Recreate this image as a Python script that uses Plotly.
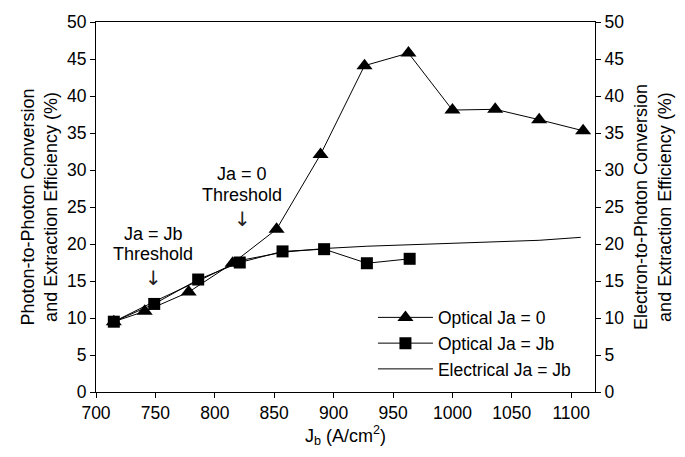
import plotly.graph_objects as go

# Data
jb_opt0 = [715, 741, 778, 815, 852, 889, 926, 963, 1000, 1036, 1073, 1110]
eff_opt0 = [9.5, 10.9, 13.5, 17.4, 22.0, 32.1, 44.1, 45.8, 38.1, 38.2, 36.8, 35.3]

jb_optjb = [715, 749, 786, 821, 857, 892, 928, 964]
eff_optjb = [9.5, 11.9, 15.2, 17.5, 19.0, 19.3, 17.4, 18.0]

jb_elec = [715, 750, 786, 822, 858, 893, 928, 964, 1000, 1036, 1073, 1108]
eff_elec = [9.5, 12.3, 15.0, 17.8, 18.9, 19.4, 19.7, 19.9, 20.1, 20.3, 20.5, 20.9]

x_ticks = [700, 750, 800, 850, 900, 950, 1000, 1050, 1100]
y_ticks = [0, 5, 10, 15, 20, 25, 30, 35, 40, 45, 50]

FONT = "Liberation Sans, Arial, sans-serif"
fs = 17.5
fst = 18

fig = go.Figure()
fig.add_trace(go.Scatter(x=jb_opt0, y=eff_opt0, mode="lines+markers", name="Optical Ja = 0",
                         legendgroup="a",
                         line=dict(color="black", width=1),
                         marker=dict(symbol="triangle-up", size=14, color="black")))
fig.add_trace(go.Scatter(x=jb_optjb, y=eff_optjb, mode="lines+markers", name="Optical Ja = Jb",
                         legendgroup="b",
                         line=dict(color="black", width=1),
                         marker=dict(symbol="square", size=12, color="black")))
fig.add_trace(go.Scatter(x=jb_elec, y=eff_elec, mode="lines", name="Electrical Ja = Jb",
                         legendgroup="c",
                         line=dict(color="black", width=1), yaxis="y2"))

axis_common = dict(showgrid=False, zeroline=False, showline=True, linecolor="black", linewidth=1,
                   ticks="outside", ticklen=5, tickcolor="black",
                   tickfont=dict(family=FONT, size=fs, color="black"))

fig.update_layout(
    width=685, height=457,
    margin=dict(l=96, r=90, t=18, b=65),
    paper_bgcolor="white", plot_bgcolor="white",
    font=dict(family=FONT, size=fs, color="black"),
    showlegend=True,
    legend=dict(x=0.555, y=0.25, xanchor="left", yanchor="top",
                bgcolor="rgba(0,0,0,0)", font=dict(family=FONT, size=fs, color="black"),
                traceorder="grouped", tracegroupgap=0, itemwidth=55),
    xaxis=dict(range=[700, 1120], tickvals=x_ticks, mirror=True,
               title=dict(text="J<sub>b</sub> (A/cm<sup>2</sup>)", standoff=6,
                          font=dict(family=FONT, size=fst, color="black")),
               **axis_common),
    yaxis=dict(range=[0, 50], tickvals=y_ticks,
               title=dict(text="Photon-to-Photon Conversion<br>and Extraction Efficiency (%)", standoff=4,
                          font=dict(family=FONT, size=fst, color="black")),
               **axis_common),
    yaxis2=dict(range=[0, 50], tickvals=y_ticks, overlaying="y", side="right",
                title=dict(text="Electron-to-Photon Conversion<br>and Extraction Efficiency (%)", standoff=11,
                           font=dict(family=FONT, size=fst, color="black")),
                **axis_common),
)

annots = [
    (748, 21.4, "Ja = Jb"), (748, 18.6, "Threshold"),
    (823, 29.4, "Ja = 0"), (823, 26.6, "Threshold"),
]
for ax_, ay_, t in annots:
    fig.add_annotation(x=ax_, y=ay_, text=t, showarrow=False, xref="x", yref="y",
                       font=dict(family=FONT, size=fst, color="black"))
arrows = [(748, 15.4), (823, 23.4)]
for ax_, ay_ in arrows:
    fig.add_annotation(x=ax_, y=ay_, text="↓", showarrow=False, xref="x", yref="y",
                       font=dict(family="DejaVu Sans", size=20, color="#222222"))

fig.write_html("out.html")
